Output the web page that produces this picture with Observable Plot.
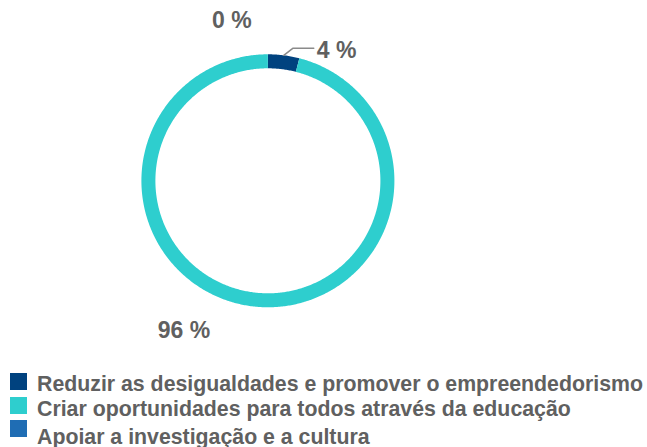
<!DOCTYPE html>
<html>
<head>
<meta charset="utf-8">
<script src="https://cdn.jsdelivr.net/npm/d3@7"></script>
<script src="https://cdn.jsdelivr.net/npm/@observablehq/plot@0.6"></script>
<style>
  html, body { margin: 0; padding: 0; background: #fff; }
  body { width: 647px; height: 447px; overflow: hidden; position: relative; font-family: "Liberation Sans", Arial, sans-serif; }
  #chart svg { display: block; }
  #legend { position: absolute; left: 10px; top: 373px; }
  .row { position: relative; height: 23.5px; }
  .sw { position: absolute; left: 0; top: 0; width: 17px; height: 17px; }
  .lt { position: absolute; left: 27px; font-size: 21.3px; font-weight: bold; color: #606060; white-space: nowrap; line-height: 1; }
</style>
</head>
<body>
<div id="chart"></div>
<div id="legend"></div>
<script>
const categories = [
  "Reduzir as desigualdades e promover o empreendedorismo",
  "Criar oportunidades para todos através da educação",
  "Apoiar a investigação e a cultura"
];
const values = [4, 96, 0];
const valueLabels = ["4 %", "96 %", "0 %"];
const colors = ["#00427f", "#2ecece", "#1f6db4"];

// geometry (pixels, in data units where 1 unit = 1 px)
const R = 119.5, thick = 14, Rout = R + thick / 2;

const pie = d3.pie().sort(null).value(d => d.value)(
  categories.map((c, i) => ({cat: c, value: values[i], label: valueLabels[i]}))
);

const arcPts = [];
for (const s of pie) {
  const span = s.endAngle - s.startAngle;
  const n = Math.max(2, Math.ceil(span / 0.01));
  for (let k = 0; k <= n; k++) {
    const a = s.startAngle + span * k / n;
    arcPts.push({cat: s.data.cat, x: R * Math.sin(a), y: R * Math.cos(a)});
  }
}
const slices = pie.map(s => {
  const m = (s.startAngle + s.endAngle) / 2;
  return {cat: s.data.cat, label: s.data.label, x: Rout * Math.sin(m), y: Rout * Math.cos(m)};
});
const s4 = slices[0];
const leader = [
  {x: s4.x, y: s4.y},
  {x: s4.x + 9, y: s4.y + 7},
  {x: s4.x + 30, y: s4.y + 7}
];

const cx = 267.4, cy = 180.3;
const textStyle = {fontSize: 23, fontWeight: "bold", fill: "#606060", fontFamily: "Liberation Sans, Arial, sans-serif"};

const chart = Plot.plot({
  width: 647,
  height: 373,
  margin: 0,
  x: {domain: [-100, 100], range: [cx - 100, cx + 100], axis: null},
  y: {domain: [-100, 100], range: [cy + 100, cy - 100], axis: null},
  color: {domain: categories, range: colors},
  marks: [
    Plot.line(arcPts, {x: "x", y: "y", z: "cat", stroke: "cat", strokeWidth: thick, strokeLinecap: "butt", curve: "linear"}),
    Plot.line(leader, {x: "x", y: "y", stroke: "#8a8a8a", strokeWidth: 1.5}),
    Plot.text([slices[0]], {x: d => d.x + 30, y: d => d.y + 7, text: "label", textAnchor: "start", dx: 3, dy: 2, ...textStyle}),
    Plot.text([slices[2]], {x: "x", y: "y", text: "label", textAnchor: "middle", dx: -36, dy: -34, ...textStyle}),
    Plot.text([slices[1]], {x: "x", y: "y", text: "label", textAnchor: "middle", dx: -68, dy: 24, ...textStyle})
  ]
});
document.getElementById("chart").append(chart);

const textTops = [1, 2.5, 7];
const legend = d3.select("#legend");
categories.forEach((c, i) => {
  const row = legend.append("div").attr("class", "row");
  row.append("div").attr("class", "sw").style("background", colors[i]);
  row.append("div").attr("class", "lt").style("top", textTops[i] + "px").text(c);
});
</script>
</body>
</html>
